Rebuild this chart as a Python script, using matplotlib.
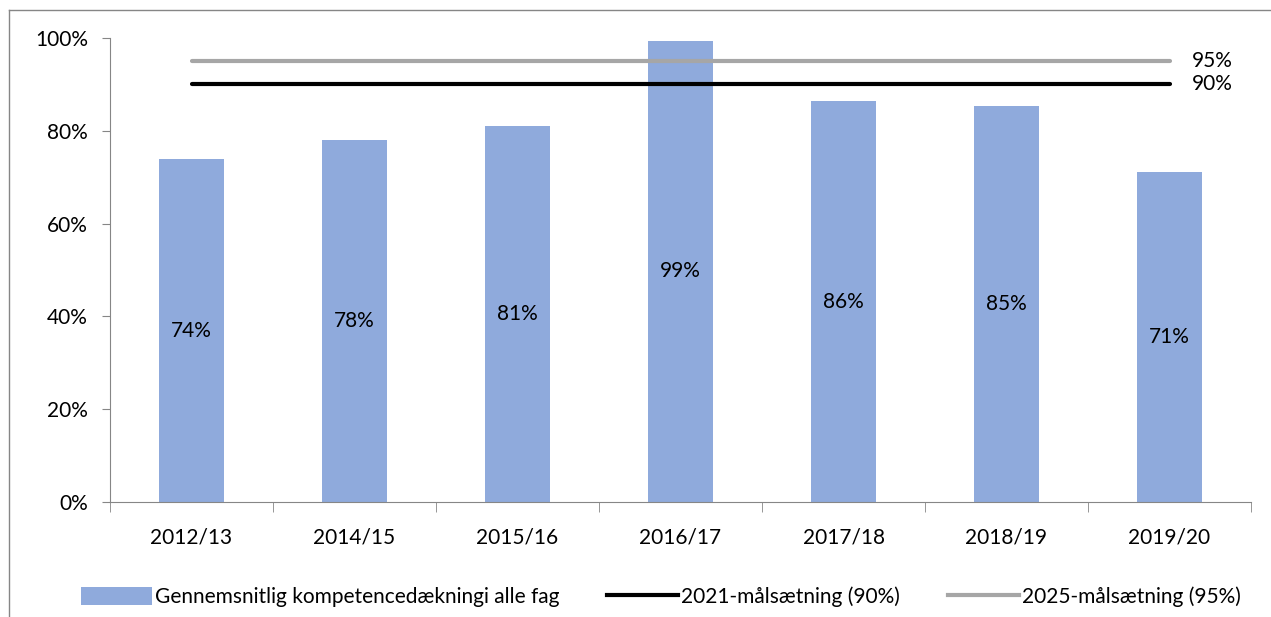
import matplotlib
matplotlib.use("Agg")
import matplotlib.pyplot as plt
from matplotlib.lines import Line2D
from matplotlib.patches import Patch
import numpy as np

categories = ["2012/13", "2014/15", "2015/16", "2016/17", "2017/18", "2018/19", "2019/20"]
coverage = [73.9, 78.0, 81.0, 99.4, 86.4, 85.3, 71.1]
labels = ["74%", "78%", "81%", "99%", "86%", "85%", "71%"]
target_2021 = 90
target_2025 = 95
yticks = [0, 20, 40, 60, 80, 100]

plt.rcParams['font.family'] = ['Lato', 'DejaVu Sans']
FS = 15

W, H = 1271, 617
fig = plt.figure(figsize=(W / 100, H / 100), dpi=100)
ax = fig.add_axes([110 / W, 1 - 502 / H, 1141 / W, 464 / H])

x = np.arange(len(categories))
bar_color = '#8FAADC'
ax.bar(x, coverage, width=0.4, color=bar_color, zorder=2)
for xi, v, lab in zip(x, coverage, labels):
    ax.text(xi, v / 2, lab, ha='center', va='center', fontsize=FS, color='black')

ax.plot([x[0], x[-1]], [target_2025, target_2025], color='#A6A6A6', lw=3, zorder=3, solid_capstyle='round')
ax.plot([x[0], x[-1]], [target_2021, target_2021], color='black', lw=3, zorder=3, solid_capstyle='round')
ax.text(x[-1] + 0.14, target_2025, "95%", ha='left', va='center', fontsize=FS)
ax.text(x[-1] + 0.14, target_2021, "90%", ha='left', va='center', fontsize=FS)

ax.set_xlim(-0.5, len(categories) - 0.5)
ax.set_ylim(0, 100)
ax.set_yticks(yticks)
ax.set_yticklabels([f"{t}%" for t in yticks], fontsize=FS)
ax.set_xticks(x)
ax.set_xticklabels(categories, fontsize=FS)
ax.tick_params(axis='x', length=0, pad=18)
ax.set_xticks(np.arange(-0.5, len(categories), 1), minor=True)
ax.tick_params(axis='x', which='minor', length=7, color='#868686', direction='out')
ax.tick_params(axis='y', length=6, color='#868686', direction='out', pad=10)

for s in ['top', 'right']:
    ax.spines[s].set_visible(False)
for s in ['left', 'bottom']:
    ax.spines[s].set_color('#868686')

handles = [
    Patch(facecolor=bar_color, label="Gennemsnitlig kompetencedækningi alle fag"),
    Line2D([0], [0], color='black', lw=3, label="2021-målsætning (90%)"),
    Line2D([0], [0], color='#A6A6A6', lw=3, label="2025-målsætning (95%)"),
]
fig.legend(handles=handles, loc='center', bbox_to_anchor=(661 / W, 1 - 597 / H), ncol=3,
           frameon=False, fontsize=FS, handlelength=3.4, handleheight=0.9,
           handletextpad=0.15, columnspacing=2.3)

# outer frame of chart area
fig.add_artist(Line2D([9 / W, 9 / W], [0, 1 - 10 / H], color='#868686', lw=1, transform=fig.transFigure))
fig.add_artist(Line2D([9 / W, 1], [1 - 10 / H, 1 - 10 / H], color='#868686', lw=1, transform=fig.transFigure))

fig.savefig("out.png", dpi=100)
